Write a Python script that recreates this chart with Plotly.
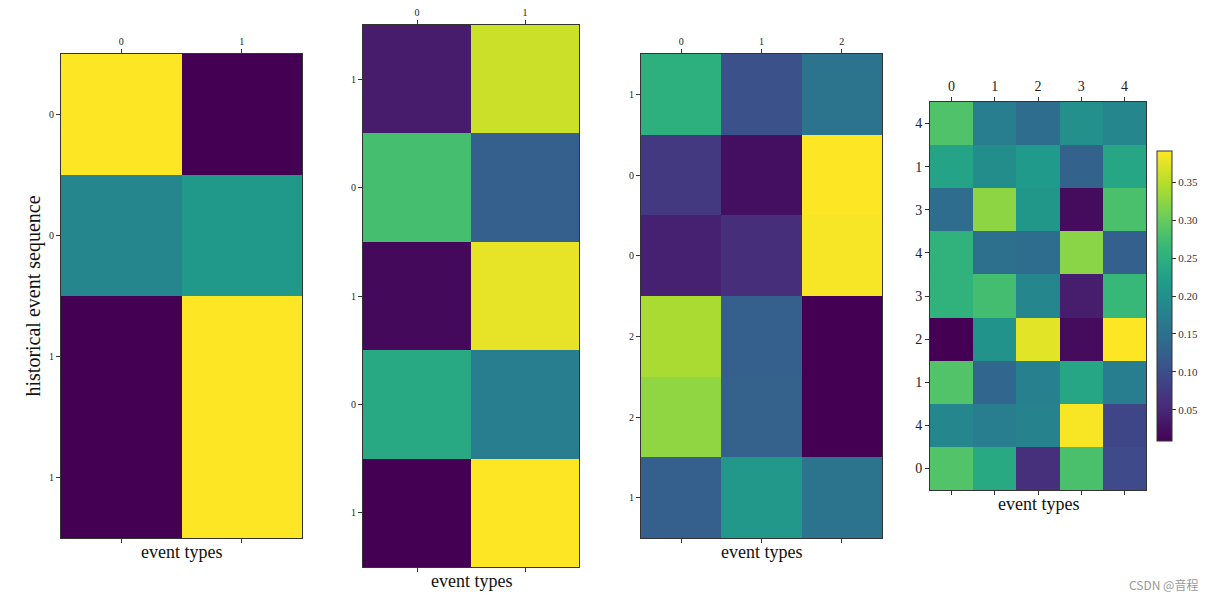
import plotly.graph_objects as go

W, H = 1215, 600

# ---------------- data ----------------
p1_cols = ["0", "1"]
p1_rows = ["0", "0", "1", "1"]
p1_vals = [[0.78, 0.22],
           [0.48, 0.52],
           [0.22, 0.78],
           [0.22, 0.78]]

p2_cols = ["0", "1"]
p2_rows = ["1", "0", "1", "0", "1"]
p2_vals = [[0.12, 0.88],
           [0.68, 0.32],
           [0.07, 0.92],
           [0.59, 0.43],
           [0.05, 0.95]]

p3_cols = ["0", "1", "2"]
p3_rows = ["1", "0", "0", "2", "2", "1"]
p3_vals = [[0.445, 0.183, 0.272],
           [0.127, 0.038, 0.700],
           [0.072, 0.100, 0.693],
           [0.610, 0.217, 0.010],
           [0.583, 0.224, 0.010],
           [0.217, 0.376, 0.272]]

p4_cols = ["0", "1", "2", "3", "4"]
p4_rows = ["4", "1", "3", "4", "3", "2", "1", "4", "0"]
p4_vals = [[0.284, 0.170, 0.145, 0.200, 0.185],
           [0.230, 0.195, 0.215, 0.130, 0.235],
           [0.145, 0.325, 0.210, 0.020, 0.280],
           [0.255, 0.150, 0.145, 0.322, 0.125],
           [0.255, 0.275, 0.185, 0.040, 0.265],
           [0.009, 0.205, 0.375, 0.020, 0.391],
           [0.285, 0.135, 0.175, 0.235, 0.170],
           [0.185, 0.170, 0.180, 0.388, 0.090],
           [0.285, 0.240, 0.060, 0.280, 0.095]]

cbar_ticks = [0.05, 0.10, 0.15, 0.20, 0.25, 0.30, 0.35]

# ---------------- layout geometry (pixels) ----------------
panels = [
    dict(cols=p1_cols, rows=p1_rows, vals=p1_vals, box=(61, 302, 54, 538), fs=10),
    dict(cols=p2_cols, rows=p2_rows, vals=p2_vals, box=(363, 579, 25, 567), fs=10),
    dict(cols=p3_cols, rows=p3_rows, vals=p3_vals, box=(641, 882, 54, 538), fs=10),
    dict(cols=p4_cols, rows=p4_rows, vals=p4_vals, box=(930, 1146, 102, 490), fs=14),
]

FONT = "Liberation Serif, Times New Roman, serif"
fig = go.Figure()
layout = {}
annotations = []

for i, p in enumerate(panels, start=1):
    x0, x1, y0, y1 = p["box"]
    xa = "x" if i == 1 else f"x{i}"
    ya = "y" if i == 1 else f"y{i}"
    xkey = "xaxis" if i == 1 else f"xaxis{i}"
    ykey = "yaxis" if i == 1 else f"yaxis{i}"
    ncol, nrow = len(p["cols"]), len(p["rows"])
    trace = dict(
        z=p["vals"],
        x=list(range(ncol)),
        y=list(range(nrow)),
        colorscale="Viridis",
        xaxis=xa, yaxis=ya,
        showscale=False,
        hoverinfo="z",
    )
    if i == 4:
        trace.update(
            zmin=0.009, zmax=0.391, showscale=True,
            colorbar=dict(
                x=1157 / W, xanchor="left", xref="paper",
                y=1 - 296 / H, yanchor="middle",
                len=290 / H, lenmode="fraction",
                thickness=15, thicknessmode="pixels",
                outlinewidth=1, outlinecolor="#333",
                tickvals=cbar_ticks,
                ticktext=[f"{t:.2f}" for t in cbar_ticks],
                ticks="outside", ticklen=4, tickcolor="#333",
                tickfont=dict(family=FONT, size=11, color="#333"),
                xpad=0, ypad=0,
            ),
        )
    fig.add_trace(go.Heatmap(**trace))

    layout[xkey] = dict(
        domain=[x0 / W, x1 / W],
        anchor=ya,
        side="top",
        range=[-0.5, ncol - 0.5],
        tickvals=list(range(ncol)),
        ticktext=p["cols"],
        ticks="outside", ticklen=4, tickcolor="#333",
        showline=True, linecolor="#333", linewidth=1,
        mirror="ticks",
        showgrid=False, zeroline=False,
        tickfont=dict(family=FONT, size=p["fs"], color="#222"),
        fixedrange=True,
        automargin=False,
    )
    layout[ykey] = dict(
        domain=[1 - y1 / H, 1 - y0 / H],
        anchor=xa,
        range=[nrow - 0.5, -0.5],
        tickvals=list(range(nrow)),
        ticktext=p["rows"],
        ticks="outside", ticklen=4, tickcolor="#333",
        showline=True, linecolor="#333", linewidth=1,
        mirror=True,
        showgrid=False, zeroline=False,
        tickfont=dict(family=FONT, size=p["fs"], color="#222"),
        fixedrange=True,
        automargin=False,
    )
    annotations.append(dict(
        text="event types",
        xref=f"{xa} domain", yref=f"{ya} domain",
        x=0.5, y=0, yanchor="top", xanchor="center",
        yshift=-2, showarrow=False,
        font=dict(family=FONT, size=18, color="#111"),
    ))

layout["yaxis"]["title"] = dict(
    text="historical event sequence",
    font=dict(family=FONT, size=20, color="#111"),
    standoff=3,
)

annotations.append(dict(
    text="CSDN @音程", xref="paper", yref="paper",
    x=1200 / W, y=1 - 584 / H, xanchor="right", yanchor="middle",
    showarrow=False,
    font=dict(family="Noto Sans CJK SC, sans-serif", size=12, color="#999"),
))

fig.update_layout(
    width=W, height=H,
    margin=dict(l=0, r=0, t=0, b=0, autoexpand=False),
    paper_bgcolor="white", plot_bgcolor="white",
    annotations=annotations,
    **layout,
)

fig.write_html("out.html", config={"displayModeBar": False},
               post_script="document.body.style.margin='0px';")
